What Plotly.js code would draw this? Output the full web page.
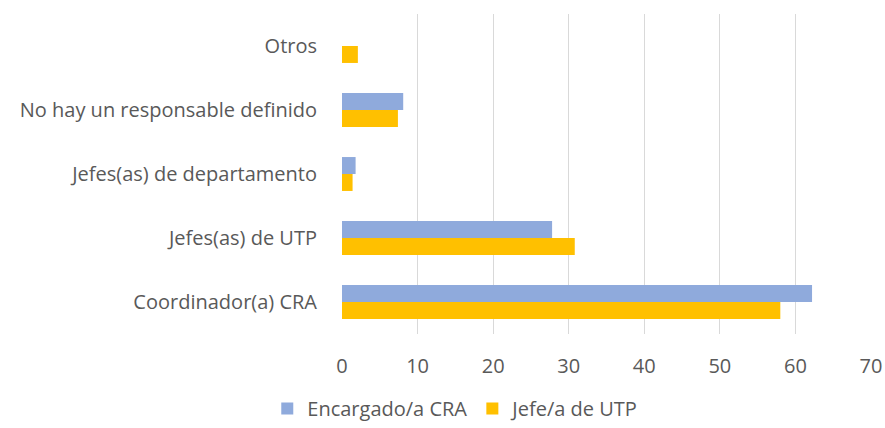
<!DOCTYPE html>
<html>
<head>
<meta charset="utf-8">
<script src="https://cdn.plot.ly/plotly-3.0.1.min.js"></script>
<style>html,body{margin:0;padding:0;background:#fff;}#chart{width:885px;height:428px;}</style>
</head>
<body>
<div id="chart"></div>
<script>
const categories = ["Coordinador(a) CRA", "Jefes(as) de UTP", "Jefes(as) de departamento", "No hay un responsable definido", "Otros"];
const encargadoCRA = [62.2, 27.8, 1.8, 8.1, 0];
const jefeUTP = [58.0, 30.8, 1.4, 7.4, 2.1];
const xTicks = [0, 10, 20, 30, 40, 50, 60, 70];

const font = {family: "'Open Sans', sans-serif", color: "#595959", size: 20};

const traces = [
  {type: "bar", orientation: "h", name: "Jefe/a de UTP", y: categories, x: jefeUTP,
   marker: {color: "#FFC000"}, legendrank: 2, hoverinfo: "x+y"},
  {type: "bar", orientation: "h", name: "Encargado/a CRA", y: categories, x: encargadoCRA,
   marker: {color: "#8FAADC"}, legendrank: 1, hoverinfo: "x+y"}
];

const layout = {
  width: 885, height: 428,
  margin: {l: 342, r: 14, t: 14, b: 94},
  paper_bgcolor: "#fff", plot_bgcolor: "#fff",
  font: font,
  barmode: "group", bargap: 0.47, bargroupgap: 0,
  xaxis: {range: [0, 70], tickvals: xTicks, ticktext: xTicks.map(String),
          showgrid: true, gridcolor: "#d9d9d9", gridwidth: 1, zeroline: false,
          showline: false, ticks: "", ticklabelstandoff: 18, tickfont: {size: 20}},
  yaxis: {type: "category", showgrid: false, zeroline: false, showline: false, ticks: "",
          ticklabelstandoff: 24, tickfont: {size: 20}},
  showlegend: true,
  legend: {orientation: "h", xref: "container", yref: "container", x: 0.515, xanchor: "center",
           y: 0.0, yanchor: "bottom", font: {size: 20}, itemwidth: 30, tracegroupgap: 0},
};

Plotly.newPlot("chart", traces, layout, {displayModeBar: false, staticPlot: true});
</script>
</body>
</html>
